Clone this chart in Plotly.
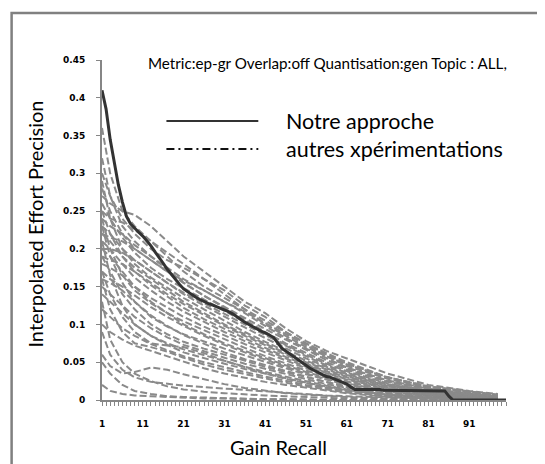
import plotly.graph_objects as go

# ---------------- data ----------------
recall = list(range(1, 101))

notre_approche = [
    0.410, 0.385, 0.345, 0.312, 0.285, 0.262, 0.243, 0.233, 0.227, 0.222,
    0.217, 0.211, 0.204, 0.196, 0.189, 0.181, 0.173, 0.166, 0.159, 0.153,
    0.147, 0.143, 0.139, 0.136, 0.133, 0.130, 0.128, 0.126, 0.124, 0.122,
    0.120, 0.117, 0.114, 0.110, 0.106, 0.103, 0.100, 0.097, 0.093, 0.091,
    0.089, 0.086, 0.083, 0.076, 0.069, 0.065, 0.061, 0.057, 0.053, 0.049,
    0.045, 0.042, 0.039, 0.036, 0.033, 0.031, 0.030, 0.028, 0.026, 0.024,
    0.021, 0.017, 0.014, 0.014, 0.014, 0.014, 0.014, 0.014, 0.014, 0.013,
    0.013, 0.013, 0.013, 0.013, 0.013, 0.013, 0.013, 0.013, 0.012, 0.012,
    0.012, 0.012, 0.012, 0.012, 0.012, 0.005, 0.0, 0.0, 0.0, 0.0,
    0.0, 0.0, 0.0, 0.0, 0.0, 0.0, 0.0, 0.0, 0.0, 0.0,
]

other_recall = [1, 3, 6, 9, 13, 17, 21, 26, 31, 36, 41, 46, 51, 56, 61, 71, 81, 91, 98]

run_01 = [0.36, 0.30, 0.25, 0.23, 0.21, 0.19, 0.17, 0.15, 0.135, 0.12, 0.105, 0.09, 0.075, 0.062, 0.05, 0.03, 0.018, 0.011, 0.006]
run_02 = [0.27, 0.26, 0.25, 0.245, 0.23, 0.21, 0.19, 0.17, 0.15, 0.13, 0.115, 0.095, 0.078, 0.065, 0.055, 0.035, 0.02, 0.012, 0.008]
run_03 = [0.30, 0.27, 0.24, 0.22, 0.20, 0.185, 0.175, 0.16, 0.145, 0.125, 0.11, 0.09, 0.075, 0.06, 0.048, 0.03, 0.017, 0.01, 0.006]
run_04 = [0.25, 0.24, 0.235, 0.225, 0.21, 0.195, 0.18, 0.16, 0.14, 0.12, 0.10, 0.085, 0.07, 0.058, 0.045, 0.028, 0.016, 0.01, 0.007]
run_05 = [0.28, 0.25, 0.22, 0.20, 0.185, 0.17, 0.158, 0.145, 0.13, 0.117, 0.102, 0.087, 0.072, 0.058, 0.047, 0.03, 0.018, 0.011, 0.007]
run_06 = [0.24, 0.23, 0.22, 0.205, 0.19, 0.175, 0.16, 0.145, 0.13, 0.115, 0.098, 0.082, 0.068, 0.055, 0.043, 0.026, 0.015, 0.009, 0.005]
run_07 = [0.32, 0.27, 0.23, 0.21, 0.19, 0.172, 0.155, 0.138, 0.123, 0.108, 0.094, 0.08, 0.066, 0.053, 0.042, 0.025, 0.014, 0.008, 0.004]
run_08 = [0.22, 0.215, 0.21, 0.20, 0.185, 0.17, 0.155, 0.138, 0.122, 0.105, 0.09, 0.075, 0.062, 0.05, 0.04, 0.024, 0.014, 0.008, 0.005]
run_09 = [0.26, 0.24, 0.215, 0.195, 0.175, 0.16, 0.148, 0.133, 0.118, 0.103, 0.088, 0.073, 0.06, 0.048, 0.038, 0.022, 0.012, 0.007, 0.004]
run_10 = [0.23, 0.22, 0.20, 0.185, 0.17, 0.155, 0.142, 0.128, 0.114, 0.10, 0.086, 0.072, 0.058, 0.046, 0.036, 0.021, 0.012, 0.007, 0.004]
run_11 = [0.20, 0.20, 0.195, 0.185, 0.17, 0.155, 0.14, 0.125, 0.11, 0.096, 0.082, 0.068, 0.055, 0.044, 0.034, 0.02, 0.011, 0.006, 0.003]
run_12 = [0.29, 0.24, 0.20, 0.18, 0.162, 0.148, 0.135, 0.12, 0.105, 0.09, 0.077, 0.064, 0.052, 0.042, 0.033, 0.019, 0.011, 0.006, 0.003]
run_13 = [0.22, 0.21, 0.19, 0.175, 0.16, 0.145, 0.13, 0.115, 0.10, 0.087, 0.074, 0.062, 0.05, 0.04, 0.031, 0.018, 0.01, 0.005, 0.003]
run_14 = [0.19, 0.185, 0.18, 0.17, 0.155, 0.14, 0.127, 0.112, 0.098, 0.085, 0.072, 0.06, 0.048, 0.038, 0.03, 0.017, 0.009, 0.005, 0.002]
run_15 = [0.25, 0.22, 0.19, 0.17, 0.152, 0.137, 0.122, 0.107, 0.094, 0.081, 0.069, 0.057, 0.046, 0.036, 0.028, 0.016, 0.009, 0.005, 0.002]
run_16 = [0.21, 0.20, 0.18, 0.162, 0.145, 0.13, 0.117, 0.103, 0.09, 0.078, 0.066, 0.055, 0.044, 0.035, 0.027, 0.015, 0.008, 0.004, 0.002]
run_17 = [0.18, 0.175, 0.165, 0.15, 0.135, 0.122, 0.11, 0.097, 0.085, 0.074, 0.063, 0.052, 0.042, 0.033, 0.025, 0.014, 0.007, 0.004, 0.002]
run_18 = [0.24, 0.20, 0.165, 0.145, 0.128, 0.115, 0.104, 0.092, 0.08, 0.069, 0.058, 0.048, 0.039, 0.031, 0.024, 0.013, 0.007, 0.004, 0.002]
run_19 = [0.20, 0.19, 0.17, 0.15, 0.13, 0.115, 0.10, 0.087, 0.075, 0.065, 0.055, 0.046, 0.037, 0.029, 0.022, 0.012, 0.006, 0.003, 0.001]
run_20 = [0.17, 0.16, 0.15, 0.138, 0.123, 0.11, 0.098, 0.085, 0.073, 0.063, 0.053, 0.044, 0.035, 0.028, 0.021, 0.011, 0.006, 0.003, 0.001]
run_21 = [0.23, 0.19, 0.155, 0.13, 0.11, 0.097, 0.087, 0.077, 0.068, 0.059, 0.05, 0.042, 0.034, 0.027, 0.02, 0.011, 0.005, 0.003, 0.001]
run_22 = [0.16, 0.155, 0.145, 0.13, 0.112, 0.098, 0.086, 0.074, 0.063, 0.054, 0.046, 0.038, 0.031, 0.024, 0.018, 0.01, 0.005, 0.002, 0.001]
run_23 = [0.19, 0.17, 0.14, 0.12, 0.10, 0.087, 0.077, 0.068, 0.06, 0.052, 0.044, 0.037, 0.03, 0.023, 0.017, 0.009, 0.004, 0.002, 0.001]
run_24 = [0.15, 0.14, 0.125, 0.11, 0.095, 0.083, 0.073, 0.064, 0.056, 0.048, 0.041, 0.034, 0.027, 0.021, 0.016, 0.008, 0.004, 0.002, 0.001]
run_25 = [0.21, 0.165, 0.125, 0.10, 0.085, 0.075, 0.067, 0.059, 0.051, 0.044, 0.037, 0.031, 0.025, 0.019, 0.014, 0.007, 0.003, 0.002, 0.001]
run_26 = [0.14, 0.13, 0.115, 0.10, 0.085, 0.073, 0.063, 0.055, 0.048, 0.041, 0.035, 0.029, 0.023, 0.018, 0.013, 0.007, 0.003, 0.001, 0.0]
run_27 = [0.17, 0.14, 0.11, 0.09, 0.075, 0.072, 0.07, 0.062, 0.052, 0.043, 0.035, 0.028, 0.022, 0.017, 0.012, 0.006, 0.003, 0.001, 0.0]
run_28 = [0.12, 0.11, 0.095, 0.085, 0.074, 0.066, 0.058, 0.05, 0.043, 0.037, 0.031, 0.025, 0.02, 0.016, 0.012, 0.006, 0.003, 0.001, 0.0]
run_29 = [0.16, 0.12, 0.09, 0.075, 0.07, 0.064, 0.056, 0.047, 0.04, 0.034, 0.028, 0.023, 0.018, 0.014, 0.01, 0.005, 0.002, 0.001, 0.0]
run_30 = [0.10, 0.09, 0.08, 0.072, 0.065, 0.058, 0.05, 0.042, 0.035, 0.029, 0.024, 0.02, 0.016, 0.012, 0.009, 0.004, 0.002, 0.001, 0.0]
run_31 = [0.06, 0.045, 0.035, 0.037, 0.043, 0.04, 0.034, 0.027, 0.021, 0.016, 0.012, 0.009, 0.007, 0.005, 0.004, 0.002, 0.001, 0.0, 0.0]
run_32 = [0.05, 0.035, 0.02, 0.012, 0.008, 0.005, 0.004, 0.003, 0.002, 0.002, 0.001, 0.001, 0.001, 0.0, 0.0, 0.0, 0.0, 0.0, 0.0]
run_33 = [0.13, 0.08, 0.05, 0.035, 0.025, 0.018, 0.014, 0.011, 0.009, 0.007, 0.006, 0.005, 0.004, 0.003, 0.002, 0.001, 0.0, 0.0, 0.0]
run_34 = [0.02, 0.012, 0.008, 0.006, 0.005, 0.004, 0.003, 0.002, 0.002, 0.001, 0.001, 0.001, 0.0, 0.0, 0.0, 0.0, 0.0, 0.0, 0.0]
run_35 = [0.09, 0.06, 0.04, 0.03, 0.024, 0.021, 0.019, 0.017, 0.015, 0.013, 0.011, 0.009, 0.008, 0.006, 0.005, 0.003, 0.002, 0.001, 0.0]

other_runs = [run_01, run_02, run_03, run_04, run_05, run_06, run_07, run_08, run_09, run_10,
              run_11, run_12, run_13, run_14, run_15, run_16, run_17, run_18, run_19, run_20,
              run_21, run_22, run_23, run_24, run_25, run_26, run_27, run_28, run_29, run_30,
              run_31, run_32, run_33, run_34, run_35]

y_ticks = [0, 0.05, 0.1, 0.15, 0.2, 0.25, 0.3, 0.35, 0.4, 0.45]
y_tick_text = ["0", "0.05", "0.1", "0.15", "0.2", "0.25", "0.3", "0.35", "0.4", "0.45"]
x_ticks = [1, 11, 21, 31, 41, 51, 61, 71, 81, 91]

title_text = "Metric:ep-gr Overlap:off Quantisation:gen Topic : ALL,"
legend_main = "Notre approche"
legend_other = "autres xpérimentations"
x_title = "Gain Recall"
y_title = "Interpolated Effort Precision"

# ---------------- figure ----------------
# the page body has an 8px margin, so the figure is drawn 8px smaller
OFF = 8
W, H = 545 - OFF, 464 - OFF
ML, MR, MT, MB = 101.5 - OFF, 39, 60 - OFF, 64
PW, PH = W - ML - MR, H - MT - MB

def px(xp):
    # window pixel -> paper fraction
    return (xp - OFF - ML) / PW

def py(yp):
    return (H - MB - (yp - OFF)) / PH

GRAY = "#8a8a8a"
DARK = "#333333"
AX = "#868686"
TXT = "#000000"

fig = go.Figure()
for run in other_runs:
    fig.add_trace(go.Scatter(x=other_recall, y=run, mode="lines",
                             line=dict(color=GRAY, width=2, dash="7px,3px"),
                             showlegend=False, hoverinfo="skip"))
fig.add_trace(go.Scatter(x=recall, y=notre_approche, mode="lines",
                         line=dict(color=DARK, width=3),
                         showlegend=False))

fig.update_layout(
    width=W, height=H,
    margin=dict(l=ML, r=MR, t=MT, b=MB, pad=0),
    paper_bgcolor="white", plot_bgcolor="white",
    showlegend=False,
)
fig.update_xaxes(range=[1, 100], showgrid=False, zeroline=False,
                 showline=True, linecolor=AX, linewidth=2,
                 tickmode="array", tickvals=x_ticks, ticktext=[str(v) for v in x_ticks],
                 ticks="outside", ticklen=4, tickcolor=AX, tickwidth=1,
                 minor=dict(tick0=1, dtick=1, ticks="outside", ticklen=4, tickcolor=AX, tickwidth=1),
                 tickfont=dict(family="DejaVu Sans", size=9, color=TXT, weight="bold"),
                 ticklabelstandoff=10)
fig.update_yaxes(range=[0, 0.45], showgrid=False, zeroline=False,
                 showline=True, linecolor=AX, linewidth=2,
                 tickmode="array", tickvals=y_ticks, ticktext=y_tick_text,
                 ticks="outside", ticklen=4, tickcolor=AX, tickwidth=1,
                 tickfont=dict(family="DejaVu Sans", size=9, color=TXT, weight="bold"),
                 ticklabelstandoff=9)

# chart-area frame
fig.add_shape(type="rect", xref="paper", yref="paper",
              x0=px(11), x1=px(560), y0=py(480), y1=py(13),
              line=dict(color="#808080", width=2.5), fillcolor="rgba(0,0,0,0)")

# legend drawn inside the plot
fig.add_shape(type="line", xref="paper", yref="paper",
              x0=px(166), x1=px(258), y0=py(121), y1=py(121),
              line=dict(color=DARK, width=2))
fig.add_shape(type="line", xref="paper", yref="paper",
              x0=px(166), x1=px(258), y0=py(149), y1=py(149),
              line=dict(color="#111111", width=2, dash="8px,4px,2px,4px"))
fig.add_annotation(xref="paper", yref="paper", x=px(284), y=py(121),
                   xanchor="left", yanchor="middle", showarrow=False,
                   text=legend_main, font=dict(family="Lato", size=21.5, color=TXT))
fig.add_annotation(xref="paper", yref="paper", x=px(284), y=py(149),
                   xanchor="left", yanchor="middle", showarrow=False,
                   text=legend_other, font=dict(family="Lato", size=21.5, color=TXT))

# title
fig.add_annotation(xref="paper", yref="paper", x=px(146), y=py(63),
                   xanchor="left", yanchor="middle", showarrow=False,
                   text=title_text, font=dict(family="Lato", size=15.2, color=TXT))

# axis titles
fig.add_annotation(xref="paper", yref="paper", x=px(278), y=py(447),
                   xanchor="center", yanchor="middle", showarrow=False,
                   text=x_title, font=dict(family="Lato", size=20, color=TXT))
fig.add_annotation(xref="paper", yref="paper", x=px(34), y=py(224),
                   xanchor="center", yanchor="middle", showarrow=False, textangle=-90,
                   text=y_title, font=dict(family="Lato", size=20, color=TXT))

fig.write_html("out.html")
